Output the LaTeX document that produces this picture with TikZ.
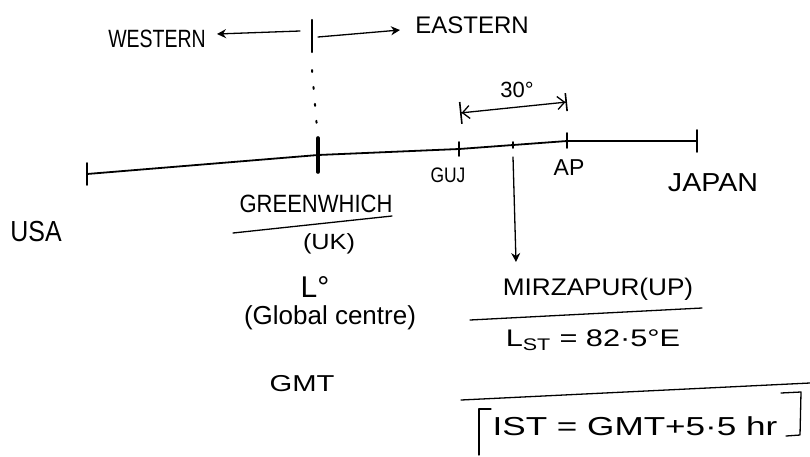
\documentclass[tikz,border=0pt]{standalone}
\usepackage{fontspec}
\usepackage{graphicx}
\setmainfont{Liberation Sans}
\usetikzlibrary{arrows.meta}
\newcommand{\hwtext}[2]{\scalebox{#1}[1]{#2}}
\begin{document}
\begin{tikzpicture}[x=1pt,y=-1pt,
  ink/.style={line width=1.3pt, line cap=round, line join=round, draw=black},
  axis/.style={line width=1.8pt, line cap=round, line join=round},
  lbl/.style={inner sep=0pt, anchor=center, text=black},
  fs/.style={font=\fontsize{#1}{#1}\selectfont},
  tip/.style={-{Stealth[length=9pt,width=9pt]}}]
\useasboundingbox (0,0) rectangle (810,456);
\fill[white] (0,0) rectangle (810,456);

% top: western / eastern
\node[lbl,fs=25] (western) at (157,39) {\hwtext{0.78}{WESTERN}};
\node[lbl,fs=24] (eastern) at (472,25) {EASTERN};
\coordinate (topA) at (312,20);
\coordinate (topB) at (312,52);
\draw[line width=2.4pt, line cap=round] (topA) -- (topB);
\coordinate (wstart) at (300,31);
\coordinate (wend) at (217,34);
\coordinate (estart) at (318,37);
\coordinate (eend) at (400,30);
\draw[ink,tip] (wstart) -- (wend);
\draw[ink,tip] (estart) -- (eend);
\draw[line width=2pt, dash pattern=on 2pt off 15pt, line cap=round] (312,70) -- (317,128);

% main axis
\coordinate (L0) at (87,174);
\coordinate (G) at (318,155);
\coordinate (gujT) at (459,149);
\coordinate (midT) at (513,145);
\coordinate (apT) at (567,141);
\coordinate (jT) at (697,141);
\draw[axis] (L0) -- (G) -- (gujT) -- (midT) -- (apT) -- (jT);
\draw[axis] (L0) ++(0,-11) -- ++(0,22);
\draw[line width=3.6pt, line cap=round] (G) ++(0,-17) -- ++(0,34);
\draw[axis] (gujT) ++(0,-7) -- ++(0,14);
\draw[axis] (midT) ++(0,-3) -- ++(0,6);
\draw[axis] (apT) ++(0,-8) -- ++(0,15);
\draw[axis] (jT) ++(0,-11) -- ++(0,22);

% 30 degree span
\node[lbl,fs=22] (thirty) at (517,90) {30°};
\coordinate (s1) at (460,113);
\coordinate (s2) at (567,102);
\draw[ink,{Bar[width=22pt,line width=1.6pt]Straight Barb[length=7pt,width=13pt,line width=1.3pt]}-{Straight Barb[length=7pt,width=13pt,line width=1.3pt]Bar[width=18pt,line width=1.6pt]}] (s1) -- (s2);

% axis labels
\node[lbl,fs=21] (gujl) at (448,175) {\hwtext{0.83}{GUJ}};
\node[lbl,fs=23] (apl) at (569,168) {AP};
\node[lbl,fs=26] (japan) at (713,183) {\hwtext{1.1}{JAPAN}};
\node[lbl,fs=29] (usa) at (36,232) {\hwtext{0.86}{USA}};

% Greenwich column
\node[lbl,fs=25] (green) at (316,204) {\hwtext{0.88}{GREENWHICH}};
\coordinate (gu1) at (233,233);
\coordinate (gu2) at (392,216);
\draw[ink] (gu1) -- (gu2);
\node[lbl,fs=22] (uk) at (329,244) {\hwtext{1.15}{(UK)}};
\node[lbl,fs=30] (lzero) at (315,287) {L°};
\node[lbl,fs=26] (glob) at (330,318) {(Global centre)};
\node[lbl,fs=23] (gmt) at (302,384) {\hwtext{1.27}{GMT}};

% Mirzapur column
\coordinate (mfrom) at (513,157);
\coordinate (mtip) at (516,262);
\draw[ink,tip] (mfrom) -- (mtip);
\node[lbl,fs=24] (mirz) at (598,289) {\hwtext{1.09}{MIRZAPUR(UP)}};
\coordinate (mu1) at (470,320);
\coordinate (mu2) at (702,308);
\draw[ink] (mu1) -- (mu2);
\node[lbl,fs=24] (lst) at (593,340) {\hwtext{1.28}{L\textsubscript{ST} = 82·5°E}};
\coordinate (lu1) at (461,400);
\coordinate (lu2) at (810,383);
\draw[ink] (lu1) -- (lu2);
\node[lbl,fs=26] (ist) at (635,426) {\hwtext{1.35}{IST = GMT+5·5 hr}};
\draw[ink] (491,409) -- (479,409) -- (479,455);
\draw[ink] (781,393) -- (801,392) -- (800,435) -- (786,436);
\end{tikzpicture}
\end{document}
